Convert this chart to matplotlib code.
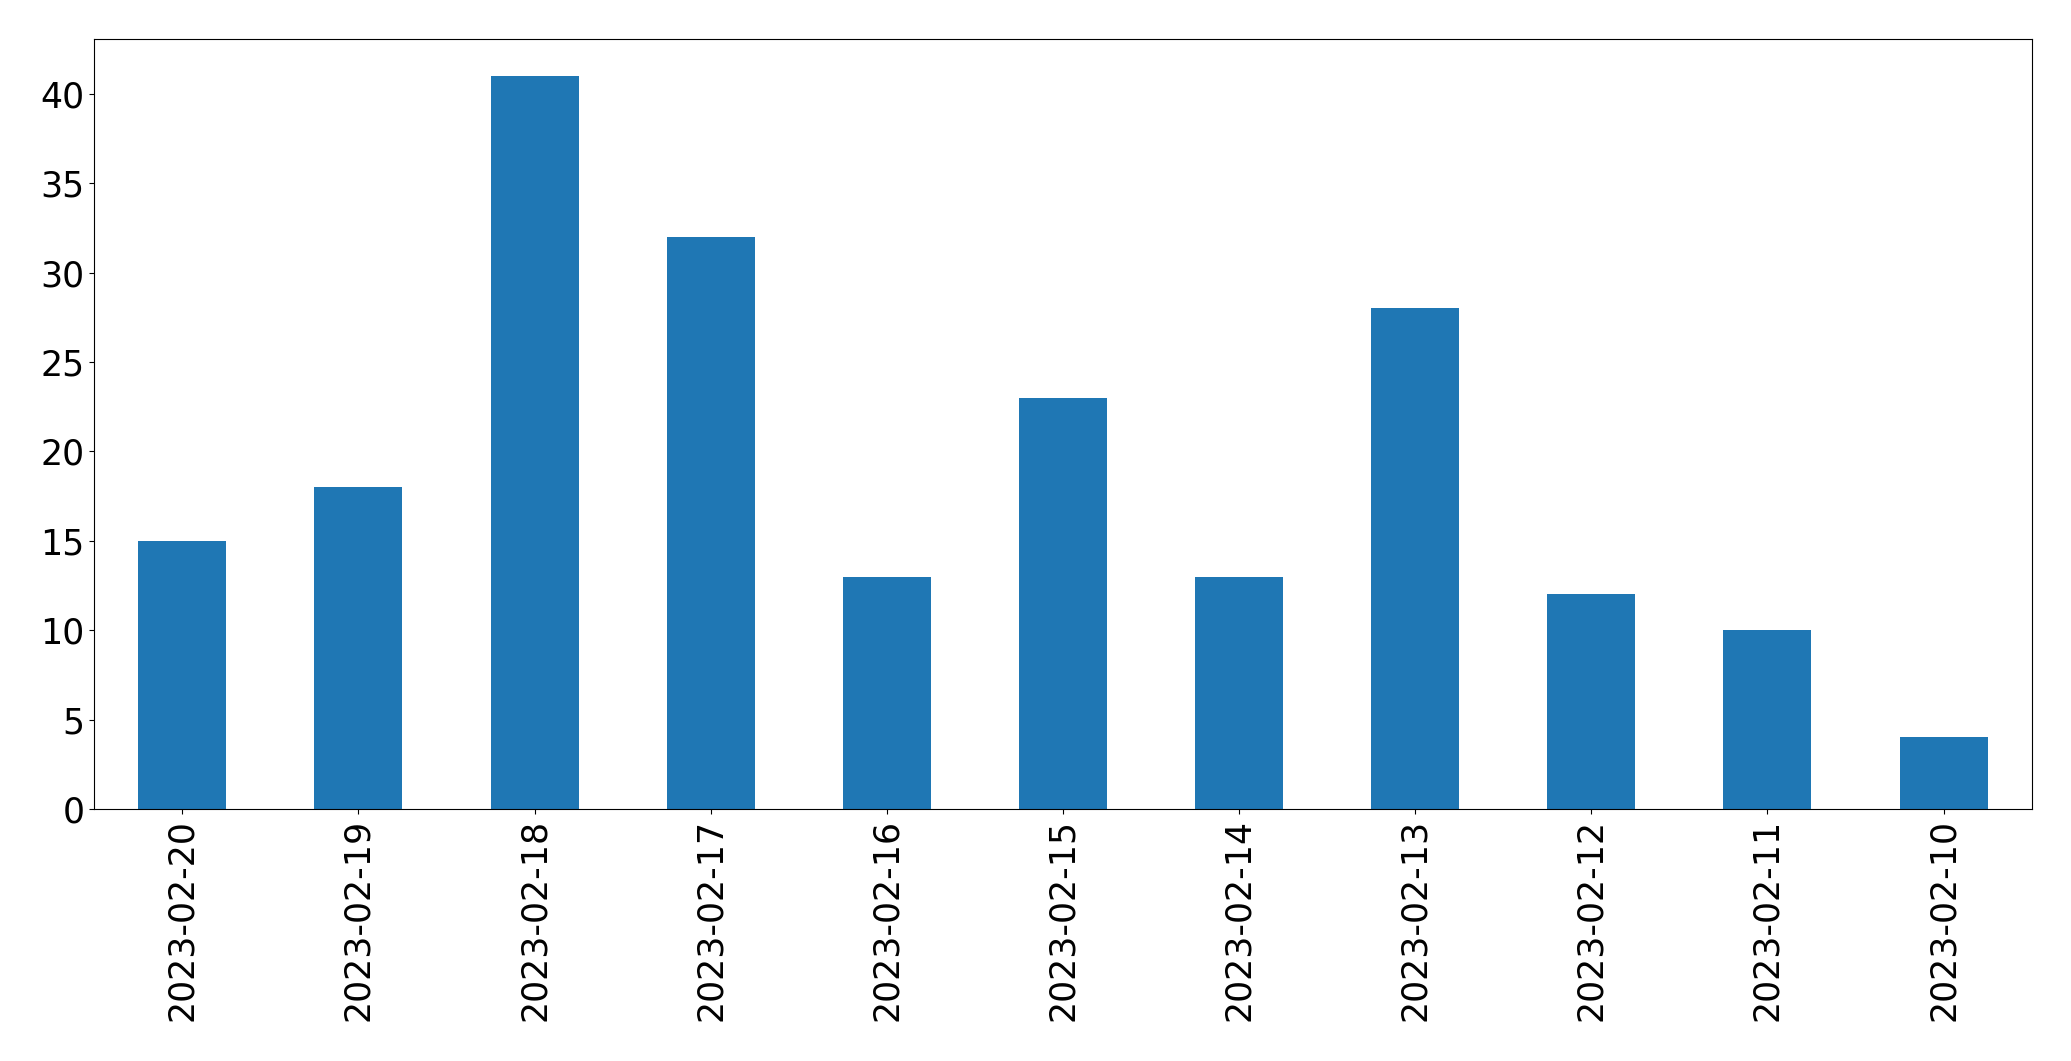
import matplotlib
matplotlib.use("Agg")
import matplotlib.pyplot as plt

dates = ["2023-02-20", "2023-02-19", "2023-02-18", "2023-02-17", "2023-02-16",
         "2023-02-15", "2023-02-14", "2023-02-13", "2023-02-12", "2023-02-11",
         "2023-02-10"]
counts = [15, 18, 41, 32, 13, 23, 13, 28, 12, 10, 4]

fig, ax = plt.subplots(figsize=(20.71, 10.61), dpi=100)
fig.subplots_adjust(left=0.0455, right=0.981, top=0.963, bottom=0.2375)

x = range(len(dates))
ax.bar(x, counts, width=0.5, color="#1f77b4")
ax.set_xticks(list(x))
ax.set_xticklabels(dates, rotation=90)
ax.set_xlim(-0.5, len(dates) - 0.5)
ax.set_ylim(0, max(counts) * 1.05)
ax.tick_params(axis="both", labelsize=25)

fig.savefig("out.png", dpi=100)
